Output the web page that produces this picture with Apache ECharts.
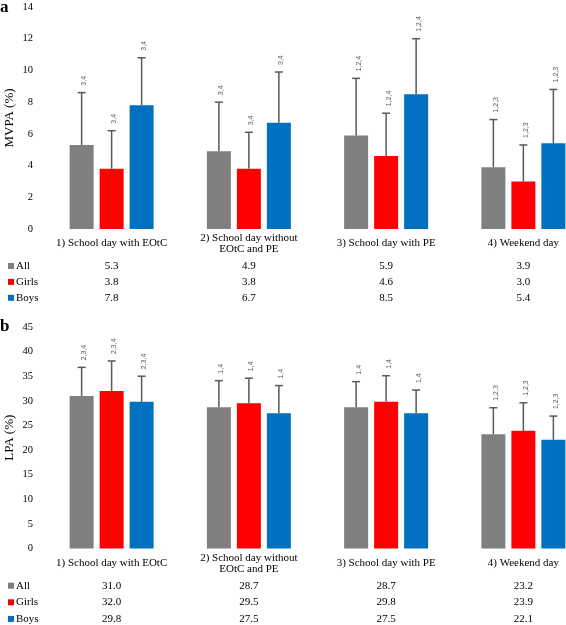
<!DOCTYPE html>
<html><head><meta charset="utf-8">
<script src="https://cdn.jsdelivr.net/npm/echarts@6/dist/echarts.min.js"></script>
<style>html,body{margin:0;padding:0;background:#fff}#c{width:566px;height:625px}</style>
</head><body><div id="c"></div><script>
const categories = ['1) School day with EOtC', '2) School day without\nEOtC and PE', '3) School day with PE', '4) Weekend day'];
const groups = ['All', 'Girls', 'Boys'];
const colors = ['#7f7f7f', '#ff0000', '#0070c0'];

// Panel a: MVPA (%)
const mvpaAll = [5.3, 4.9, 5.9, 3.9];
const mvpaGirls = [3.8, 3.8, 4.6, 3.0];
const mvpaBoys = [7.8, 6.7, 8.5, 5.4];
const mvpaAllSd = [3.3, 3.1, 3.6, 3.0];
const mvpaGirlsSd = [2.4, 2.3, 2.7, 2.3];
const mvpaBoysSd = [3.0, 3.2, 3.5, 3.4];
const mvpaSig = ['3,4', '3,4', '1,2,4', '1,2,3'];

// Panel b: LPA (%)
const lpaAll = [31.0, 28.7, 28.7, 23.2];
const lpaGirls = [32.0, 29.5, 29.8, 23.9];
const lpaBoys = [29.8, 27.5, 27.5, 22.1];
const lpaAllSd = [5.8, 5.4, 5.2, 5.4];
const lpaGirlsSd = [6.1, 5.1, 5.3, 5.7];
const lpaBoysSd = [5.2, 5.6, 4.7, 4.8];
const lpaSig = ['2,3,4', '1,4', '1,4', '1,2,3'];

const mvpaTicks = {min: 0, max: 14, interval: 2};
const lpaTicks = {min: 0, max: 45, interval: 5};

const SERIF = 'Liberation Serif';
const BAR_W = 24, BAR_GAP = 6;

function errData(means, sds) {
  const out = [];
  means.forEach((m, g) => m.forEach((v, c) => out.push([c, g, v, +(v + sds[g][c]).toFixed(2)])));
  return out;
}
function errRender(sig) {
  return function (params, api) {
    const cat = api.value(0), g = api.value(1), mean = api.value(2), up = api.value(3);
    const base = api.coord([cat, mean]);
    const top = api.coord([cat, up]);
    const x = base[0] + (g - 1) * (BAR_W + BAR_GAP);
    const st = {stroke: '#595959', lineWidth: 1.5};
    return {type: 'group', children: [
      {type: 'line', shape: {x1: x, y1: base[1], x2: x, y2: top[1]}, style: st},
      {type: 'line', shape: {x1: x - 4, y1: top[1], x2: x + 4, y2: top[1]}, style: st},
      {type: 'text', x: x + 2.5, y: top[1] - 7, rotation: Math.PI / 2,
        style: {text: sig[cat], fontSize: 7, fontFamily: 'Liberation Sans', fill: '#595959', align: 'left', verticalAlign: 'middle'}}
    ]};
  };
}

const grids = [
  {left: 43, width: 549, top: 7, height: 222, outerBoundsMode: 'none', containLabel: false},
  {left: 43, width: 549, top: 327, height: 221.5, outerBoundsMode: 'none', containLabel: false}
];
const panels = [
  {means: [mvpaAll, mvpaGirls, mvpaBoys], sds: [mvpaAllSd, mvpaGirlsSd, mvpaBoysSd], sig: mvpaSig, ticks: mvpaTicks, name: 'MVPA (%)', rows: [37, 52.7, 68.7], catGap: 14.5},
  {means: [lpaAll, lpaGirls, lpaBoys], sds: [lpaAllSd, lpaGirlsSd, lpaBoysSd], sig: lpaSig, ticks: lpaTicks, name: 'LPA (%)', rows: [37.2, 53.8, 70.5], catGap: 15}
];

const xAxis = [], yAxis = [], series = [];
panels.forEach((p, pi) => {
  const catAxisIndex = xAxis.length;
  xAxis.push({type: 'category', gridIndex: pi, data: categories,
    axisLine: {show: false}, axisTick: {show: false},
    axisLabel: {interval: 0, margin: p.catGap, verticalAlign: 'middle', lineHeight: 11.5, fontSize: 11, fontFamily: SERIF, color: '#000'}});
  p.means.forEach((m, g) => {
    xAxis.push({type: 'category', gridIndex: pi, data: m.map(v => v.toFixed(1)), position: 'bottom', offset: p.rows[g],
      axisLine: {show: false}, axisTick: {show: false}, splitLine: {show: false},
      axisLabel: {interval: 0, margin: 0, verticalAlign: 'middle', fontSize: 11, fontFamily: SERIF, color: '#000'}});
  });
  yAxis.push({type: 'value', gridIndex: pi, min: p.ticks.min, max: p.ticks.max, interval: p.ticks.interval,
    name: p.name, nameLocation: 'middle', nameRotate: 90, nameGap: 27, nameMoveOverlap: false,
    nameTextStyle: {fontSize: 13, fontFamily: SERIF, color: '#000'},
    axisLine: {show: false}, axisTick: {show: false}, splitLine: {show: false},
    axisLabel: {margin: 10, fontSize: 10.5, fontFamily: SERIF, color: '#000'}});
  p.means.forEach((m, g) => {
    series.push({type: 'bar', name: groups[g], xAxisIndex: catAxisIndex, yAxisIndex: pi, data: m,
      barWidth: BAR_W, barGap: (BAR_GAP / BAR_W * 100) + '%', itemStyle: {color: colors[g]}, z: 2});
  });
  series.push({type: 'custom', xAxisIndex: catAxisIndex, yAxisIndex: pi, data: errData(p.means, p.sds),
    renderItem: errRender(p.sig), encode: {x: 0, y: 3}, z: 3, silent: true});
});

const legendText = {fontSize: 11, fontFamily: SERIF, color: '#000', padding: [0, 0, 0, -3], lineHeight: 12};
const legendBase = {orient: 'vertical', left: 8, icon: 'rect', itemWidth: 6, itemHeight: 6, padding: 0,
  data: groups, selectedMode: false, textStyle: legendText};

const chart = echarts.init(document.getElementById('c'));
chart.setOption({
  animation: false,
  backgroundColor: '#fff',
  title: [
    {text: 'a', left: -5, top: -6, textStyle: {fontSize: 17, fontWeight: 'bold', fontFamily: SERIF, color: '#000'}},
    {text: 'b', left: -5, top: 313, textStyle: {fontSize: 17, fontWeight: 'bold', fontFamily: SERIF, color: '#000'}}
  ],
  grid: grids,
  xAxis: xAxis,
  yAxis: yAxis,
  legend: [
    Object.assign({}, legendBase, {top: 260, itemGap: 3.9}),
    Object.assign({}, legendBase, {top: 579.7, itemGap: 4.6})
  ],
  series: series
});
</script></body></html>
